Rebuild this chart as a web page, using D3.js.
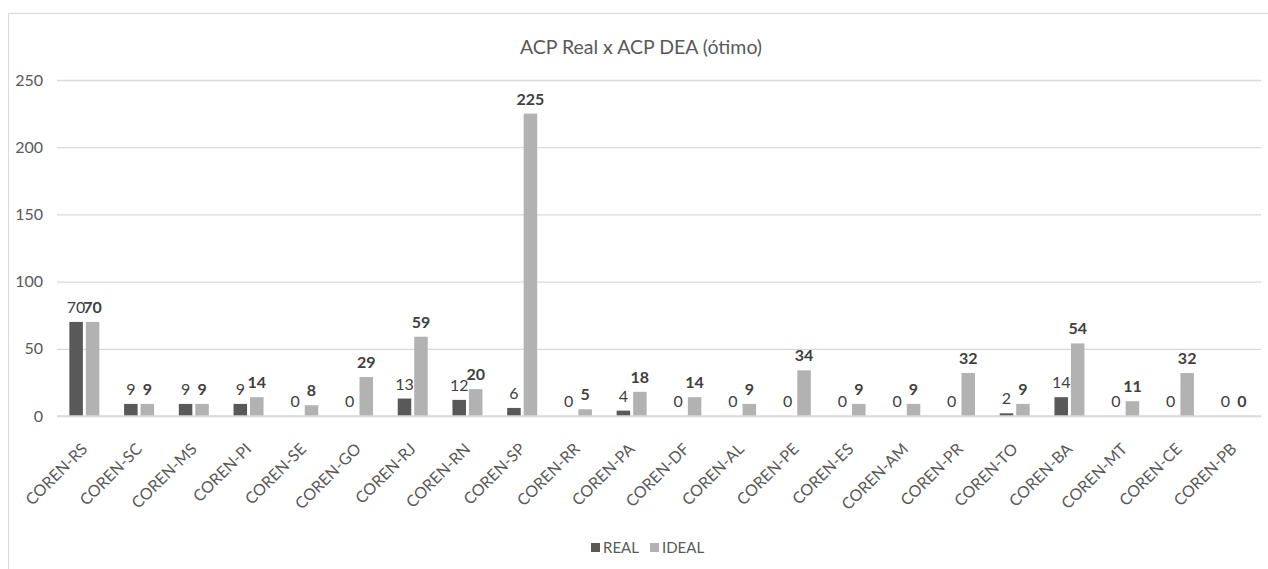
<!DOCTYPE html>
<html><head><meta charset="utf-8">
<script src="https://cdn.jsdelivr.net/npm/d3@7"></script>
<style>body{margin:0;background:#fff}svg{display:block}text{font-family:Lato,"Open Sans",sans-serif}</style>
</head><body><svg id="c" width="1268" height="569"></svg>
<script>
const categories=["COREN-RS","COREN-SC","COREN-MS","COREN-PI","COREN-SE","COREN-GO","COREN-RJ","COREN-RN","COREN-SP","COREN-RR","COREN-PA","COREN-DF","COREN-AL","COREN-PE","COREN-ES","COREN-AM","COREN-PR","COREN-TO","COREN-BA","COREN-MT","COREN-CE","COREN-PB"];
const realValues=[70,9,9,9,0,0,13,12,6,0,4,0,0,0,0,0,0,2,14,0,0,0];
const idealValues=[70,9,9,14,8,29,59,20,225,5,18,14,9,34,9,9,32,9,54,11,32,0];
const yTicks=[0,50,100,150,200,250];
const seriesNames=["REAL","IDEAL"];
const colors={REAL:"#595959",IDEAL:"#b2b2b2"};

const svg=d3.select("#c");
svg.append("rect").attr("x",8.5).attr("y",13.5).attr("width",1270).attr("height",560).attr("fill","none").attr("stroke","#d9d9d9");
const x=d3.scaleBand().domain(categories).range([57,1261]).paddingInner(0).paddingOuter(0);
const y=d3.scaleLinear().domain([0,250]).range([416,80]);
const sub=d3.scaleBand().domain(seriesNames).range([-15,15]).paddingInner(0.18);

svg.append("text").attr("x",641).attr("y",54).attr("text-anchor","middle").attr("font-size",19.5).attr("fill","#595959").text("ACP Real x ACP DEA (ótimo)");

const yAxis=svg.append("g").attr("transform","translate(57,0)").call(d3.axisLeft(y).tickValues(yTicks).tickSize(-1204).tickPadding(14));
yAxis.select(".domain").remove();
yAxis.selectAll(".tick line").attr("stroke","#d9d9d9").attr("stroke-width",1.3);
yAxis.selectAll(".tick text").attr("font-size",16).attr("fill","#595959").attr("font-family","Lato");

const data=categories.map((c,i)=>({c,REAL:realValues[i],IDEAL:idealValues[i]}));
const g=svg.append("g");
seriesNames.forEach(s=>{
  g.selectAll(null).data(data).enter().append("rect")
    .attr("x",d=>x(d.c)+x.bandwidth()/2+sub(s))
    .attr("width",sub.bandwidth())
    .attr("y",d=>y(d[s]))
    .attr("height",d=>y(0)-y(d[s]))
    .attr("fill",colors[s]);
  g.selectAll(null).data(data).enter().append("text")
    .attr("x",d=>x(d.c)+x.bandwidth()/2+sub(s)+sub.bandwidth()/2)
    .attr("y",d=>y(d[s])-9)
    .attr("text-anchor","middle")
    .attr("font-size",16)
    .attr("font-weight",s==="IDEAL"?"bold":"normal")
    .attr("fill","#404040")
    .text(d=>d[s]);
});
svg.append("line").attr("x1",57).attr("x2",1261).attr("y1",y(0)).attr("y2",y(0)).attr("stroke","#d9d9d9").attr("stroke-width",1.3);

const xAxis=svg.append("g").attr("transform",`translate(0,${y(0)})`).call(d3.axisBottom(x).tickSize(0).tickPadding(0));
xAxis.select(".domain").remove();
xAxis.selectAll(".tick text").attr("font-size",16).attr("fill","#595959").attr("font-family","Lato")
  .attr("text-anchor","end").attr("y",0).attr("dy",0).attr("transform","translate(4,34) rotate(-45)");

const lg=svg.append("g");
const lx=[591,650];
seriesNames.forEach((s,i)=>{
  lg.append("rect").attr("x",lx[i]).attr("y",543).attr("width",9).attr("height",9).attr("fill",colors[s]);
  lg.append("text").attr("x",lx[i]+12).attr("y",553).attr("font-size",15).attr("fill","#595959").text(s);
});
</script></body></html>
